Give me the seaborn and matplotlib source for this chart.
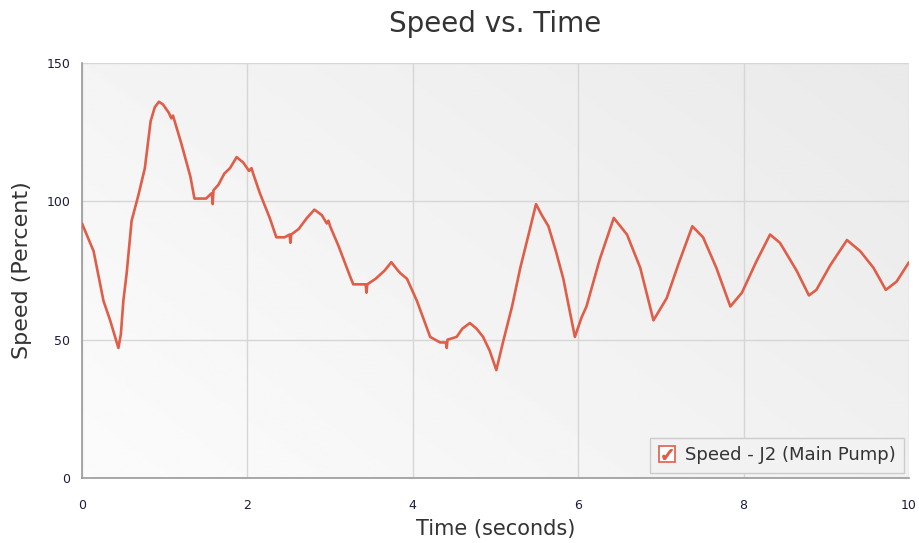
import numpy as np
import pandas as pd
import matplotlib
matplotlib.use('Agg')
import matplotlib.pyplot as plt
from matplotlib.lines import Line2D
from matplotlib.ticker import MultipleLocator
import seaborn as sns

# Werte
time_s = [0, 0.07, 0.14, 0.20, 0.26, 0.34, 0.40, 0.44, 0.47, 0.50, 0.54, 0.60, 0.68, 0.76,
          0.83, 0.88, 0.93, 0.98, 1.05, 1.08, 1.10, 1.12, 1.20, 1.31, 1.36, 1.41, 1.50, 1.57,
          1.58, 1.59, 1.65, 1.72, 1.79, 1.87, 1.95, 2.02, 2.05, 2.07, 2.15, 2.27, 2.35, 2.45,
          2.51, 2.52, 2.53, 2.62, 2.72, 2.81, 2.90, 2.96, 2.98, 3.00, 3.10, 3.24, 3.28, 3.40,
          3.43, 3.44, 3.45, 3.55, 3.66, 3.74, 3.82, 3.85, 3.93, 4.05, 4.21, 4.33, 4.40, 4.41,
          4.42, 4.53, 4.60, 4.69, 4.77, 4.85, 4.93, 5.01, 5.09, 5.20, 5.30, 5.40, 5.49, 5.56,
          5.64, 5.73, 5.82, 5.96, 6.04, 6.10, 6.26, 6.43, 6.59, 6.75, 6.91, 6.99, 7.07, 7.22,
          7.38, 7.51, 7.67, 7.84, 7.98, 8.15, 8.32, 8.44, 8.64, 8.79, 8.88, 9.05, 9.25, 9.41,
          9.57, 9.72, 9.85, 10.0]
speed_pct = [92, 87, 82, 73, 64, 57, 51, 47, 52, 64, 74, 93, 102, 112,
             129, 134, 136, 135, 132, 130, 131, 129, 121, 109, 101, 101, 101, 103,
             99, 104, 106, 110, 112, 116, 114, 111, 112, 110, 103, 94, 87, 87,
             88, 85, 88, 90, 94, 97, 95, 92, 93, 91, 84, 73, 70, 70,
             70, 67, 70, 72, 75, 78, 75, 74, 72, 64, 51, 49, 49, 47,
             50, 51, 54, 56, 54, 51, 46, 39, 49, 62, 76, 88, 99, 95,
             91, 82, 72, 51, 58, 62, 79, 94, 88, 76, 57, 61, 65, 78,
             91, 87, 76, 62, 67, 78, 88, 85, 75, 66, 68, 77, 86, 82,
             76, 68, 71, 78]
series_label = 'Speed - J2 (Main Pump)'

line_color = '#e05d48'
tick_color = '#1c1c3c'
text_color = '#333333'

sns.set_style('white')
plt.rcParams['font.family'] = ['DejaVu Sans']

df = pd.DataFrame({'Time': time_s, 'Speed': speed_pct})

fig = plt.figure(figsize=(9.19, 5.43), dpi=100)
ax = fig.add_axes([82 / 919, 65 / 543, 827 / 919, 415 / 543])

# Hintergrund mit leichtem Verlauf
grad = np.linspace(0, 1, 256)
gx, gy = np.meshgrid(grad, grad)
shade = 0.985 - 0.07 * (0.6 * gx + 0.4 * (1 - gy))
ax.imshow(shade, extent=[0, 1, 0, 1], transform=ax.transAxes, cmap='gray',
          vmin=0, vmax=1, aspect='auto', zorder=0)

sns.lineplot(data=df, x='Time', y='Speed', ax=ax, color=line_color, linewidth=1.9,
             zorder=3, legend=False)

ax.set_xlim(0, 10)
ax.set_ylim(0, 150)
ax.xaxis.set_major_locator(MultipleLocator(2))
ax.xaxis.set_minor_locator(MultipleLocator(1))
ax.yaxis.set_major_locator(MultipleLocator(50))
ax.yaxis.set_minor_locator(MultipleLocator(25))
ax.grid(True, which='major', color='#d6d6d6', linewidth=1, zorder=1)
ax.set_axisbelow(True)

for side in ['top', 'right']:
    ax.spines[side].set_visible(False)
for side in ['left', 'bottom']:
    ax.spines[side].set_color('#9a9a9a')
    ax.spines[side].set_linewidth(1.2)

ax.tick_params(which='both', direction='out', color='#8a8a8a', length=5, width=1,
               labelsize=9, labelcolor=tick_color)
ax.tick_params(axis='x', which='major', pad=10)

ax.set_title('Speed vs. Time', fontsize=20, color=text_color, pad=22)
ax.set_xlabel('Time (seconds)', fontsize=15, color=text_color, labelpad=5)
ax.set_ylabel('Speed (Percent)', fontsize=16, color=text_color, labelpad=10)

box = Line2D([], [], linestyle='none', marker='s', markersize=12,
             markerfacecolor='white', markeredgecolor=line_color, markeredgewidth=1.2)
check = Line2D([], [], linestyle='none', marker='$\\checkmark$', markersize=7,
               color=line_color)
leg = ax.legend([(box, check)], [series_label], loc='lower right', fontsize=13,
                frameon=True, fancybox=False, handlelength=1.0, handletextpad=0.5,
                borderpad=0.45, borderaxespad=0.3, labelcolor=text_color)
leg.get_frame().set_facecolor('#f2f2f2')
leg.get_frame().set_edgecolor('#cccccc')
leg.get_frame().set_alpha(1)

fig.savefig('out.png', dpi=100)
